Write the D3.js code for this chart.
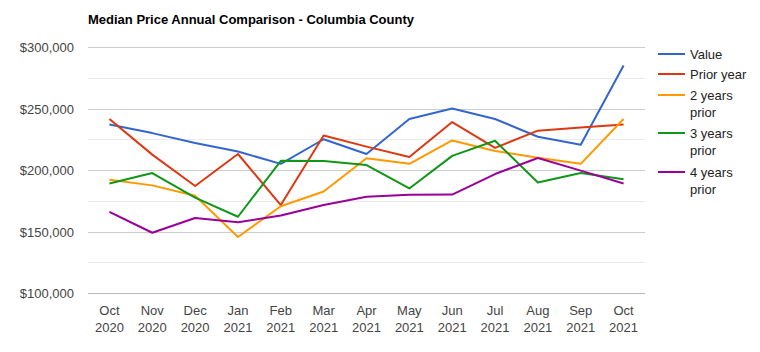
<!DOCTYPE html>
<html lang="en">
  <head>
    <meta charset="utf-8" />
    <title>Median Price Annual Comparison</title>
    <script src="https://d3js.org/d3.v7.min.js"></script>
    <style type="text/css">
      body { margin: 0; background: #fff; }
      text { font-family: Arial, "Liberation Sans", sans-serif; font-size: 13px; fill: #444; }
      .title { font-weight: bold; fill: #000; }
    </style>
  </head>
  <body>
    <script type="text/javascript">
      const w = 760;
      const h = 352;

      // Data
      const months = ["Oct 2020", "Nov 2020", "Dec 2020", "Jan 2021", "Feb 2021", "Mar 2021",
        "Apr 2021", "May 2021", "Jun 2021", "Jul 2021", "Aug 2021", "Sep 2021", "Oct 2021"];
      const seriesNames = ["Value", "Prior year", "2 years prior", "3 years prior", "4 years prior"];
      const value = [237000, 230000, 222000, 215000, 205000, 225000, 213000, 241500, 250000, 241500, 227000, 220500, 285000];
      const priorYear = [241500, 212500, 187000, 213000, 171500, 228000, 219000, 210500, 239000, 218000, 232000, 234500, 237000];
      const twoYears = [192000, 187500, 179000, 145500, 170500, 182500, 209500, 205000, 224000, 215500, 210000, 205000, 241500];
      const threeYears = [189000, 197500, 177500, 162000, 207500, 207300, 204000, 185000, 211500, 223800, 189800, 197500, 192500];
      const fourYears = [166000, 149000, 161000, 157500, 163000, 171500, 178300, 179800, 180000, 196700, 209800, 199500, 189000];
      const yTicks = [100000, 150000, 200000, 250000, 300000];
      const colors = ["#3366cc", "#dc3912", "#ff9900", "#109618", "#990099"];

      const allSeries = [value, priorYear, twoYears, threeYears, fourYears];

      const plotLeft = 88, plotRight = 645, plotTop = 47, plotBottom = 293;

      const x = d3.scaleBand().domain(months).range([plotLeft, plotRight]);
      const y = d3.scaleLinear().domain([100000, 300000]).range([plotBottom, plotTop]);

      const svg = d3.select("body").append("svg").attr("width", w).attr("height", h);

      // Title
      svg.append("text").attr("class", "title").attr("x", 88).attr("y", 24).text("Median Price Annual Comparison - Columbia County");

      // Minor gridlines
      svg.append("g").selectAll("line")
        .data(d3.range(125000, 300000, 50000))
        .enter().append("line")
        .attr("x1", plotLeft).attr("x2", plotRight)
        .attr("y1", d => Math.round(y(d)) + 0.5).attr("y2", d => Math.round(y(d)) + 0.5)
        .attr("stroke", "#ebebeb");

      // Major gridlines
      svg.append("g").selectAll("line")
        .data(yTicks)
        .enter().append("line")
        .attr("x1", plotLeft).attr("x2", plotRight)
        .attr("y1", d => Math.round(y(d)) + 0.5).attr("y2", d => Math.round(y(d)) + 0.5)
        .attr("stroke", d => d === 100000 ? "#bbb" : "#ccc");

      // Y labels
      svg.append("g").selectAll("text")
        .data(yTicks)
        .enter().append("text")
        .attr("x", 74).attr("y", d => y(d) + 5)
        .attr("text-anchor", "end")
        .text(d => "$" + d3.format(",")(d));

      // X labels
      const xl = svg.append("g").selectAll("text")
        .data(months)
        .enter().append("text")
        .attr("text-anchor", "middle")
        .attr("x", d => x(d) + x.bandwidth() / 2)
        .attr("y", 315);
      xl.append("tspan").text(d => d.split(" ")[0]);
      xl.append("tspan").attr("x", d => x(d) + x.bandwidth() / 2).attr("dy", 17).text(d => d.split(" ")[1]);

      // Lines
      const line = d3.line()
        .x((d, i) => x(months[i]) + x.bandwidth() / 2)
        .y(d => y(d));

      svg.append("g").selectAll("path")
        .data(allSeries)
        .enter().append("path")
        .attr("fill", "none")
        .attr("stroke", (d, i) => colors[i])
        .attr("stroke-width", 2)
        .attr("stroke-linejoin", "round")
        .attr("d", line);

      // Legend
      const legendRows = [54, 74, 95, 133, 172];
      const lg = svg.append("g").selectAll("g")
        .data(seriesNames)
        .enter().append("g")
        .attr("transform", (d, i) => "translate(658," + legendRows[i] + ")");
      lg.append("line")
        .attr("x1", 0).attr("x2", 27).attr("y1", 0).attr("y2", 0)
        .attr("stroke", (d, i) => colors[i]).attr("stroke-width", 2);
      const lt = lg.append("text").attr("x", 32).attr("y", 5).style("fill", "#222");
      lt.each(function (d) {
        const t = d3.select(this);
        if (d.endsWith(" prior")) {
          t.append("tspan").text(d.replace(" prior", ""));
          t.append("tspan").attr("x", 32).attr("dy", 17).text("prior");
        } else {
          t.text(d);
        }
      });
    </script>
  </body>
</html>
